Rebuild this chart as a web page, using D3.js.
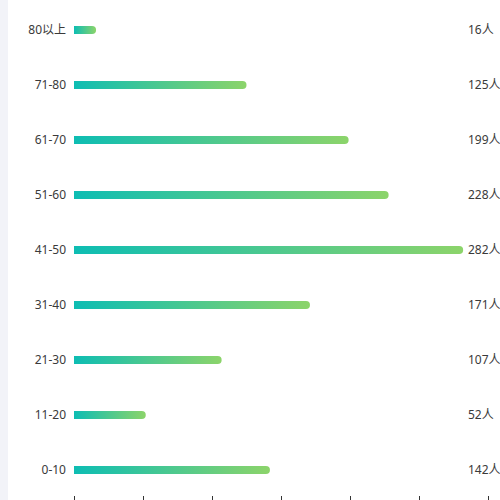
<!DOCTYPE html>
<html>
<head>
<meta charset="utf-8">
<script src="https://cdn.jsdelivr.net/npm/d3@7"></script>
<style>
  html, body { margin: 0; padding: 0; background: #fff; }
  svg { display: block; }
</style>
</head>
<body>
<script>
// age groups, bottom to top
const categories = ['0-10', '11-20', '21-30', '31-40', '41-50', '51-60', '61-70', '71-80', '80以上'];
const values = [142, 52, 107, 171, 282, 228, 199, 125, 16];
const xTicks = [0, 50, 100, 150, 200, 250, 300, 350];

const w = 500, h = 500;
const svg = d3.select('body').append('svg')
    .attr('width', w)
    .attr('height', h);

// light strip at the left edge
svg.append('rect')
    .attr('x', 0).attr('y', 0)
    .attr('width', 8).attr('height', h)
    .attr('fill', '#f2f3f8');

const defs = svg.append('defs');
const grad = defs.append('linearGradient')
    .attr('id', 'barGrad')
    .attr('x1', '0%').attr('x2', '100%')
    .attr('y1', '0%').attr('y2', '0%');
grad.append('stop').attr('offset', '0%').attr('stop-color', '#0dbdb3');
grad.append('stop').attr('offset', '100%').attr('stop-color', '#8cd46a');

const xscale = d3.scaleLinear()
    .domain([0, 300])
    .range([74, 488]);

const yscale = d3.scaleBand()
    .domain(categories.slice().reverse())
    .range([2.5, 497.5]);

const barH = 8;
const font = '"Noto Sans", "Noto Sans CJK SC", sans-serif';

// bars: square left end, rounded right end
svg.append('g').selectAll('path')
    .data(categories)
    .enter()
    .append('path')
      .attr('fill', 'url(#barGrad)')
      .attr('d', (c, i) => {
        const x0 = xscale(0), x1 = xscale(values[i]);
        const y0 = yscale(c) + yscale.bandwidth() / 2 - barH / 2;
        const r = Math.min(barH / 2, (x1 - x0) / 2);
        return 'M' + x0 + ',' + y0 +
          'H' + (x1 - r) +
          'A' + r + ',' + r + ' 0 0 1 ' + (x1 - r) + ',' + (y0 + barH) +
          'H' + x0 + 'Z';
      });

// category labels
svg.append('g').selectAll('text')
    .data(categories)
    .enter()
    .append('text')
      .attr('x', 66)
      .attr('y', c => yscale(c) + yscale.bandwidth() / 2)
      .attr('dy', '0.35em')
      .attr('text-anchor', 'end')
      .attr('font-family', font)
      .attr('font-size', 12)
      .attr('fill', '#3a3a3a')
      .text(c => c);

// value labels
svg.append('g').selectAll('text')
    .data(categories)
    .enter()
    .append('text')
      .attr('x', 468)
      .attr('y', c => yscale(c) + yscale.bandwidth() / 2)
      .attr('dy', '0.35em')
      .attr('font-family', font)
      .attr('font-size', 12)
      .attr('fill', '#3a3a3a')
      .text((c, i) => values[i] + '人');

// bottom axis, ticks only
const xaxis = d3.axisBottom(xscale)
    .tickValues(xTicks)
    .tickSize(6)
    .tickFormat('');
const ax = svg.append('g')
    .attr('transform', 'translate(0,' + 496 + ')')
    .call(xaxis);
ax.select('.domain').remove();
ax.selectAll('.tick line').attr('stroke', '#333');
</script>
</body>
</html>
